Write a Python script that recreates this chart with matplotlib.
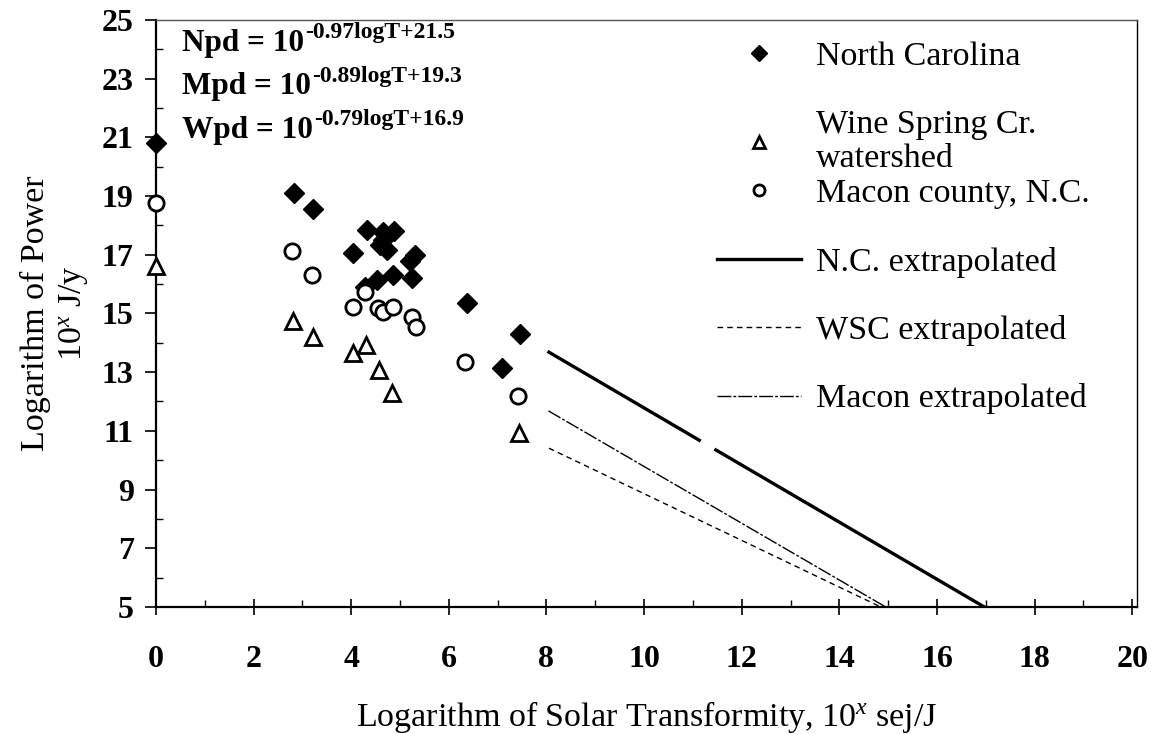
import numpy as np
import matplotlib
matplotlib.use("Agg")
import matplotlib.pyplot as plt
from matplotlib.lines import Line2D

plt.rcParams["font.family"] = ["Liberation Serif", "DejaVu Serif"]
plt.rcParams["mathtext.fontset"] = "custom"
plt.rcParams["mathtext.rm"] = "Liberation Serif"
plt.rcParams["mathtext.it"] = "Liberation Serif:italic"
plt.rcParams["mathtext.bf"] = "Liberation Serif:bold"

# North Carolina (filled diamonds)
nc_x = [0.0, 2.83, 3.22, 4.32, 4.66, 4.88, 4.04, 4.59, 4.65, 4.73, 5.31, 5.20,
        4.86, 4.52, 4.28, 5.24, 6.37, 7.46, 7.08]
nc_y = [20.8, 19.1, 18.56, 17.85, 17.79, 17.8, 17.07, 17.33, 17.5, 17.16, 17.0, 16.8,
        16.31, 16.14, 15.9, 16.2, 15.37, 14.3, 13.13]

# Wine Spring Creek watershed (open triangles)
wsc_x = [0.0, 2.81, 3.21, 4.04, 4.30, 4.56, 4.84, 7.43]
wsc_y = [16.6, 14.75, 14.21, 13.64, 13.93, 13.08, 12.28, 10.92]

# Macon county (open circles)
mac_x = [0.0, 2.78, 3.19, 4.04, 4.28, 4.54, 4.65, 4.86, 5.24, 5.33, 6.33, 7.41]
mac_y = [18.75, 17.14, 16.31, 15.23, 15.74, 15.18, 15.06, 15.21, 14.89, 14.53, 13.36, 12.19]

# extrapolated lines (N.C. line has a small break in the original)
nc_ext_x = [8.05, 11.13, np.nan, 11.47, 16.97]
nc_ext_y = [13.68, 10.68, np.nan, 10.35, 5.0]
wsc_ext_x = [8.05, 14.85]
wsc_ext_y = [10.41, 5.0]
mac_ext_x = [8.04, 14.95]
mac_ext_y = [11.68, 5.0]

eq_names = ["Npd", "Mpd", "Wpd"]
eq_exponents = ["-0.97logT+21.5", "-0.89logT+19.3", "-0.79logT+16.9"]

FS = 24.5
TICK_FS = 23
EQ_FS = 22.5

fig = plt.figure(figsize=(11.51, 7.34), dpi=100)
ax = fig.add_axes([0.1355, 0.173, 0.8525, 0.8])

ax.plot(nc_ext_x, nc_ext_y, color="black", lw=2.4)
ax.plot(wsc_ext_x, wsc_ext_y, color="black", lw=1.0, dashes=(4, 3))
ax.plot(mac_ext_x, mac_ext_y, color="black", lw=1.0, dashes=(10, 1.5, 2, 1.5))

ax.plot(nc_x, nc_y, "D", color="black", ms=10.5, clip_on=False, zorder=4)
ax.plot(wsc_x, wsc_y, "^", mfc="white", mec="black", mew=2, ms=11, clip_on=False, zorder=4)
ax.plot(mac_x, mac_y, "o", mfc="white", mec="black", mew=2, ms=11, clip_on=False, zorder=4)

ax.set_xlim(0, 20.1)
ax.set_ylim(5, 25)
ax.set_xticks(np.arange(0, 21, 2))
ax.set_xticks(np.arange(1, 20, 2), minor=True)
ax.set_yticks(np.arange(5, 26, 2))
ax.set_yticks(np.arange(6, 25, 2), minor=True)
ax.tick_params(which="major", width=1.2, labelsize=TICK_FS)
ax.tick_params(axis="x", which="major", direction="inout", length=11, pad=22)
ax.tick_params(axis="y", which="major", direction="out", length=8, pad=8)
ax.tick_params(which="minor", direction="in", length=5, width=1.0)
for lab in ax.get_xticklabels() + ax.get_yticklabels():
    lab.set_fontweight("bold")

for side in ["left", "bottom"]:
    ax.spines[side].set_linewidth(1.6)
ax.spines["top"].set_linewidth(1.0)
ax.spines["top"].set_color("#555555")
ax.spines["right"].set_linewidth(1.0)

ax.set_xlabel(r"Logarithm of Solar Transformity, 10$^{x}$ sej/J", fontsize=FS, labelpad=18)
ax.set_ylabel("Logarithm of Power\n" + r"10$^{x}$ J/y", fontsize=FS, labelpad=8,
              linespacing=1.25)

for i, (name, expo) in enumerate(zip(eq_names, eq_exponents)):
    base = ax.text(0.027, 0.985 - i * 0.074, f"{name} = 10", transform=ax.transAxes,
                   fontsize=EQ_FS, fontweight="bold", va="top", ha="left")
    ax.annotate(expo, xy=(1, 0), xycoords=base, xytext=(0.5, 14),
                textcoords="offset points", fontsize=17, fontweight="bold",
                va="baseline", ha="left")

# legend: markers first, then extrapolated lines
h_top = [
    Line2D([], [], ls="none", marker="D", color="black", ms=8),
    Line2D([], [], ls="none", marker="^", mfc="white", mec="black", mew=2, ms=8),
]
leg1 = ax.legend(h_top, ["North Carolina", "Wine Spring Cr.\nwatershed"],
                 loc="upper left", bbox_to_anchor=(0.572, 0.963), frameon=False,
                 fontsize=FS, handlelength=2.45, handletextpad=0.45, labelspacing=1.1,
                 borderpad=0, borderaxespad=0)
leg1.get_texts()[1].set_linespacing(1.15)
ax.add_artist(leg1)
h_bot = [
    Line2D([], [], ls="none", marker="o", mfc="white", mec="black", mew=2, ms=8),
    Line2D([], [], color="black", lw=2.4),
    Line2D([], [], color="black", lw=1.0, dashes=(4, 3)),
    Line2D([], [], color="black", lw=1.0, dashes=(10, 1.5, 2, 1.5)),
]
ax.legend(h_bot, ["Macon county, N.C.", "N.C. extrapolated", "WSC extrapolated",
                  "Macon extrapolated"],
          loc="upper left", bbox_to_anchor=(0.572, 0.73), frameon=False,
          fontsize=FS, handlelength=2.45, handletextpad=0.45, labelspacing=1.1,
          borderpad=0, borderaxespad=0)

fig.savefig("out.png", dpi=100)
